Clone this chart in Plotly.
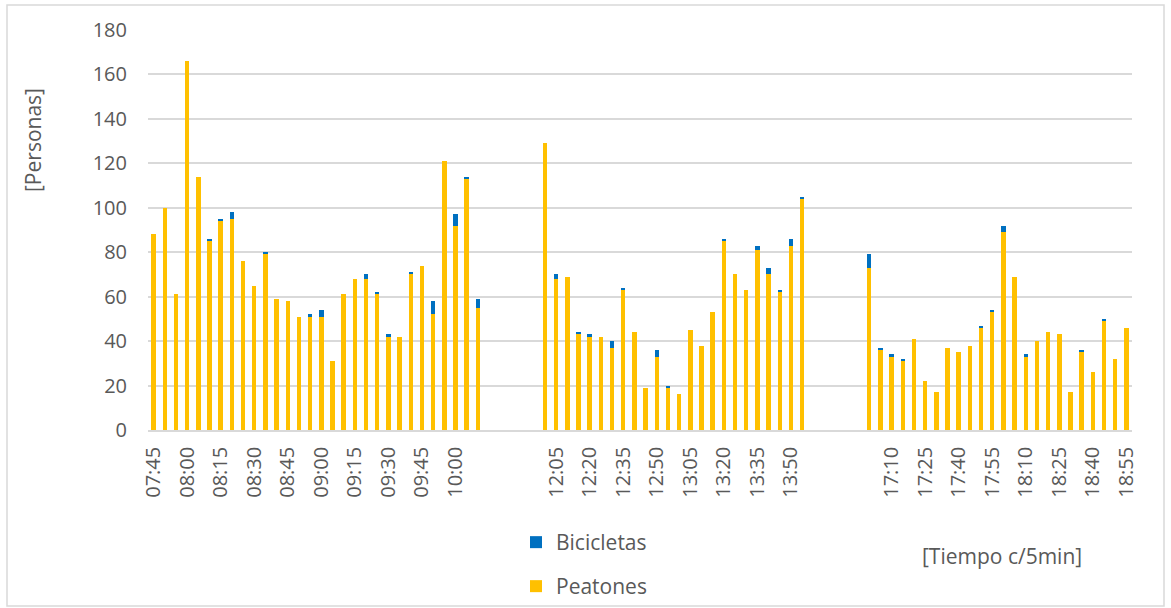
import plotly.graph_objects as go

times = ["07:45", "07:50", "07:55", "08:00", "08:05", "08:10", "08:15", "08:20", "08:25", "08:30",
         "08:35", "08:40", "08:45", "08:50", "08:55", "09:00", "09:05", "09:10", "09:15", "09:20",
         "09:25", "09:30", "09:35", "09:40", "09:45", "09:50", "09:55", "10:00", "10:05", "10:10",
         "", "", "", "", "",
         "12:00", "12:05", "12:10", "12:15", "12:20", "12:25", "12:30", "12:35", "12:40", "12:45",
         "12:50", "12:55", "13:00", "13:05", "13:10", "13:15", "13:20", "13:25", "13:30", "13:35",
         "13:40", "13:45", "13:50", "13:55",
         "", "", "", "", "",
         "17:00", "17:05", "17:10", "17:15", "17:20", "17:25", "17:30", "17:35", "17:40", "17:45",
         "17:50", "17:55", "18:00", "18:05", "18:10", "18:15", "18:20", "18:25", "18:30", "18:35",
         "18:40", "18:45", "18:50", "18:55"]

peatones = [88, 100, 61, 166, 114, 85, 94, 95, 76, 65, 79, 59, 58, 51, 51, 51, 31, 61, 68, 68,
            61, 42, 42, 70, 74, 52, 121, 92, 113, 55,
            None, None, None, None, None,
            129, 68, 69, 43, 42, 42, 37, 63, 44, 19, 33, 19, 16, 45, 38, 53, 85, 70, 63, 81,
            70, 62, 83, 104,
            None, None, None, None, None,
            73, 36, 33, 31, 41, 22, 17, 37, 35, 38, 46, 53, 89, 69, 33, 40, 44, 43, 17, 35,
            26, 49, 32, 46]

bicicletas = [0, 0, 0, 0, 0, 1, 1, 3, 0, 0, 1, 0, 0, 0, 1, 3, 0, 0, 0, 2,
              1, 1, 0, 1, 0, 6, 0, 5, 1, 4,
              None, None, None, None, None,
              0, 2, 0, 1, 1, 0, 3, 1, 0, 0, 3, 1, 0, 0, 0, 0, 1, 0, 0, 2,
              3, 1, 3, 1,
              None, None, None, None, None,
              6, 1, 1, 1, 0, 0, 0, 0, 0, 0, 1, 1, 3, 0, 1, 0, 0, 0, 0, 1,
              0, 1, 0, 0]

x = list(range(len(times)))
tick_idx = x[::3]
tick_txt = [times[i] for i in tick_idx]

FONT = "Open Sans"
TXT = "#595959"
GRID = "#D9D9D9"
TICK_SIZE = 20
TITLE_SIZE = 21

fig = go.Figure()
fig.add_trace(go.Bar(x=x, y=peatones, name="Peatones", marker=dict(color="#FFC000", line=dict(width=0)),
                     width=0.4, legend="legend2", showlegend=True))
fig.add_trace(go.Bar(x=x, y=bicicletas, name="Bicicletas", marker=dict(color="#0070C0", line=dict(width=0)),
                     width=0.4, legend="legend", showlegend=True))

W, H = 1171, 608
L, R, T, B = 148, 39, 30, 178
pw, ph = W - L - R, H - T - B

def px(xp):
    return (xp - L) / pw

def py(yp):
    return (H - B - yp) / ph

fig.update_layout(
    template="plotly",
    width=W, height=H,
    margin=dict(l=L, r=R, t=T, b=B, autoexpand=False),
    barmode="stack",
    showlegend=True,
    paper_bgcolor="white", plot_bgcolor="white",
    font=dict(family=FONT, size=TICK_SIZE, color=TXT),
    bargap=0,
    legend=dict(x=px(516), y=py(522), xanchor="left", yanchor="top",
                font=dict(family=FONT, size=TITLE_SIZE, color=TXT), bgcolor="rgba(0,0,0,0)",
                itemwidth=30, borderwidth=0),
    legend2=dict(x=px(516), y=py(607), xanchor="left", yanchor="bottom",
                 font=dict(family=FONT, size=TITLE_SIZE, color=TXT), bgcolor="rgba(0,0,0,0)",
                 itemwidth=30, borderwidth=0),
    xaxis=dict(range=[-0.5, len(times) - 0.5], tickmode="array", tickvals=tick_idx, ticktext=tick_txt,
               tickangle=-90, showgrid=False, showline=True, linecolor=GRID, linewidth=1.5,
               ticks="", ticklabelstandoff=7, tickfont=dict(family=FONT, size=TICK_SIZE, color=TXT),
               zeroline=False, automargin=False),
    yaxis=dict(range=[0, 180], dtick=20, showgrid=True, gridcolor=GRID, gridwidth=1.5,
               showline=False, zeroline=False, ticks="", ticklabelstandoff=20,
               tickfont=dict(family=FONT, size=TICK_SIZE, color=TXT), automargin=False),
    annotations=[
        dict(text="[Personas]", x=px(33), y=py(140), xref="paper", yref="paper", textangle=-90,
             showarrow=False, xanchor="center", yanchor="middle",
             font=dict(family=FONT, size=TITLE_SIZE, color=TXT)),
        dict(text="[Tiempo c/5min]", x=px(1002), y=py(556), xref="paper", yref="paper",
             showarrow=False, xanchor="center", yanchor="middle",
             font=dict(family=FONT, size=TITLE_SIZE, color=TXT)),
    ],
    shapes=[dict(type="rect", xref="paper", yref="paper", x0=px(7), x1=px(1164), y0=py(606), y1=py(5),
                 line=dict(color=GRID, width=1.5), fillcolor="rgba(0,0,0,0)", layer="below")],
)

fig.write_html("out.html")
